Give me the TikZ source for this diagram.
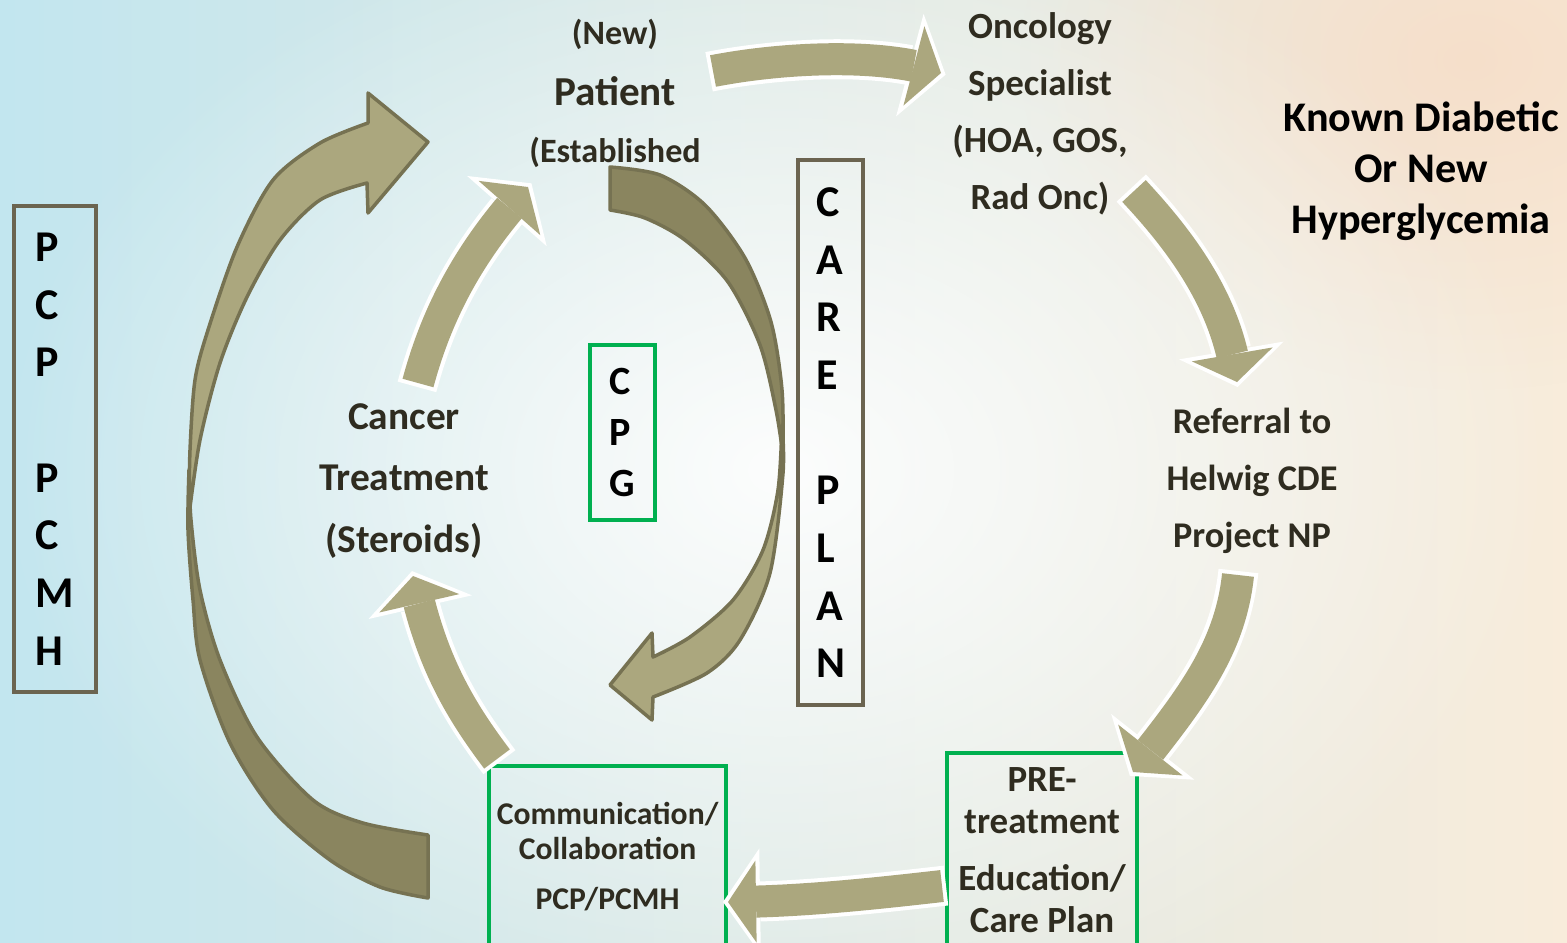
\documentclass[tikz,border=0pt]{standalone}
\usepackage{fontspec}
\setmainfont{Carlito}
\usetikzlibrary{arrows.meta,bending,fadings}

\definecolor{armfill}{HTML}{ABA77E}
\definecolor{armdark}{HTML}{8A855F}
\definecolor{armline}{HTML}{767252}
\definecolor{boxgray}{HTML}{6B6450}
\definecolor{boxgreen}{HTML}{00B050}
\definecolor{txtdark}{HTML}{2F2C20}
\definecolor{bgleft}{HTML}{C2E6EF}
\definecolor{bgright}{HTML}{F8ECDB}
\definecolor{bgpeach}{HTML}{F6DCC6}

\tikzfading[name=glow, inner color=transparent!0, outer color=transparent!100]

\newcommand\fsize[2]{\bfseries\fontsize{#1}{#2}\selectfont}

\begin{document}
\begin{tikzpicture}[
  x=0.01cm, y=-0.01cm,
  every node/.style={font=\bfseries, text=txtdark, inner sep=0pt},
  letter box/.style={draw=boxgray, line width=0.04cm, align=left, text=black, font=\fsize{12.5}{16.4}},
  green box/.style={draw=boxgreen, line width=0.04cm, align=center, anchor=north west},
  label text/.style={align=center},
  big arrow/.style={draw=armline, line width=0.035cm, line join=round},
  flat arrow/.style={line width=0.32cm, color=armfill, -{Triangle[width=0.82cm,length=0.28cm,line width=0pt]}},
  flat rim/.style={line width=0.40cm, color=white, shorten >=-0.05cm, shorten <=-0.04cm,
    -{Triangle[width=1.06cm,length=0.37cm,line width=0pt]}},
]
\useasboundingbox (0,0) rectangle (1567,942);
\clip (0,0) rectangle (1567,942);

% background
\shade[left color=bgleft, right color=bgright] (0,0) rectangle (1567,942);
\fill[bgpeach, opacity=0.8, path fading=glow] (1470,60) ellipse [x radius=450, y radius=330];
\fill[white, opacity=0.92, path fading=glow] (780,470) ellipse [x radius=780, y radius=580];

% boxes
\node[letter box, minimum width=0.82cm, minimum height=4.86cm, anchor=north west] (pcp) at (12,204) {P\\C\\P\\\mbox{}\\P\\C\\M\\H};
\node[letter box, minimum width=0.65cm, minimum height=5.45cm, anchor=north west] (careplan) at (796,158) {C\\A\\R\\E\\\mbox{}\\P\\L\\A\\N};
\node[letter box, draw=boxgreen, minimum width=0.65cm, minimum height=1.75cm, anchor=north west, font=\fsize{11.4}{14.5}] (cpg) at (588,343) {C\\P\\G};
\node[green box, minimum width=2.37cm, minimum height=1.81cm, font=\fsize{9}{10}] (comm) at (487,764) {Communication/\\Collaboration\\[4pt]PCP/PCMH};
\node[green box, minimum width=1.90cm, minimum height=1.94cm, font=\fsize{10.5}{12}] (pre) at (945,751) {PRE-\\treatment\\[4pt]Education/\\Care Plan};

% big loop arrows
\path[big arrow, fill=armdark] plot[smooth, tension=0.5] coordinates {(189,470) (188,530) (193,600) (200,660) (230,743) (273,810) (330,860) (380,887) (428,898)}
  -- plot[smooth, tension=0.5] coordinates {(428,835) (363,823) (313,800) (257,737) (220,660) (200,590) (191,520) (189,470)} -- cycle;
\path[big arrow, fill=armfill] plot[smooth, tension=0.5] coordinates {(189,515) (190,450) (195,380) (208,330) (237,247) (273,180) (320,143) (368,123)}
  -- (368,93) -- (428,142) -- (368,213)
  -- plot[smooth, tension=0.5] coordinates {(367,183) (320,200) (280,240) (247,297) (220,363) (200,440) (189,515)} -- cycle;
\path[big arrow, fill=armdark] plot[smooth, tension=0.5] coordinates {(610,167) (660,175) (705,205) (745,258) (771,322) (782,390) (783,455)}
  -- plot[smooth, tension=0.5] coordinates {(783,455) (776,410) (760,345) (728,282) (685,240) (645,218) (610,210)} -- cycle;
\path[big arrow, fill=armfill] plot[smooth, tension=0.5] coordinates {(782,425) (783,473) (770,573) (740,640) (707,673) (653,697)}
  -- (652,720) -- (610,685) -- (652,633)
  -- plot[smooth, tension=0.5] coordinates {(653,657) (690,637) (733,600) (763,550) (778,490) (782,425)} -- cycle;

% flat arrows
\coordinate (t1) at (713,71);   \coordinate (h1) at (941,73);
\coordinate (t2) at (1134,191); \coordinate (h2) at (1237,382);
\coordinate (t3) at (1238,575); \coordinate (h3) at (1133,772);
\coordinate (t4) at (942,886);  \coordinate (h4) at (728,902);
\coordinate (t5) at (497,759);  \coordinate (h5) at (413,576);
\coordinate (t6) at (418,383);  \coordinate (h6) at (528,187);
\foreach \s in {flat rim, flat arrow} {
  \draw[\s] (t1) .. controls (780,58) and (880,52) .. (h1);
  \draw[\s] (t2) .. controls (1175,235) and (1228,300) .. (h2);
  \draw[\s] (t3) .. controls (1230,650) and (1190,700) .. (h3);
  \draw[\s] (t4) .. controls (880,893) and (800,902) .. (h4);
  \draw[\s] (t5) .. controls (460,710) and (430,660) .. (h5);
  \draw[\s] (t6) .. controls (435,320) and (465,255) .. (h6);
}

% texts
\node[font=\fsize{9.7}{12}] (newpat) at (615,34) {(New)};
\node[font=\fsize{11.7}{14}] (patient) at (615,91) {Patient};
\node[font=\fsize{9.7}{12}] (estab) at (615,152) {(Established};
\node[label text, font=\fsize{10.5}{16.2}] (onc) at (1040,114) {Oncology\\Specialist\\(HOA, GOS,\\Rad Onc)};
\node[label text, font=\fsize{10.3}{16.2}] (ref) at (1252,481) {Referral to\\Helwig CDE\\Project NP};
\node[label text, text=black, font=\fsize{12}{14.5}] (known) at (1421,171) {Known Diabetic\\Or New\\Hyperglycemia};
\node[label text, font=\fsize{11.2}{17.4}] (cancer) at (404,481) {Cancer\\Treatment\\(Steroids)};
\end{tikzpicture}
\end{document}
